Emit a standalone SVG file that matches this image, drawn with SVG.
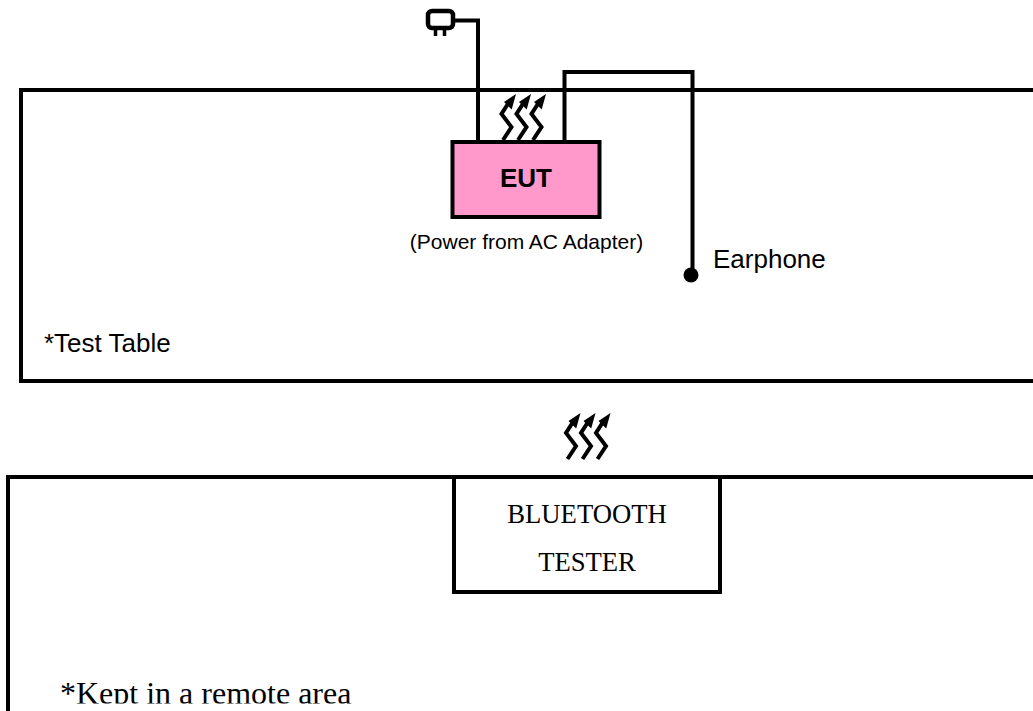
<svg xmlns="http://www.w3.org/2000/svg" width="1033" height="711" viewBox="0 0 1033 711">
<style>
.box{fill:#fff;stroke:#000;stroke-width:4}
.wire{fill:none;stroke:#000;stroke-width:4}
.sq{fill:none;stroke:#000;stroke-width:4}
.sans{font-family:"Liberation Sans",Arial,sans-serif;fill:#000}
.serif{font-family:"Liberation Serif","Times New Roman",serif;fill:#000}
</style>
<defs>
<g id="squiggle">
<path class="sq" d="M0.500 46 L9 33 L-1 20 L6 9"/>
<path d="M13.500 0 L1.500 8 L9.200 15.500 Z" fill="#000"/>
</g>
<clipPath id="remote-clip"><rect x="0" y="660" width="1033" height="43.500"/></clipPath>
</defs>
<g id="test-table">
<rect class="box" x="21" y="90" width="1040" height="291"/>
<text class="sans" x="44" y="352" font-size="26">*Test Table</text>
</g>
<g id="remote-area">
<rect class="box" x="8" y="477" width="1060" height="300"/>
<text class="serif" x="60" y="704" font-size="32" clip-path="url(#remote-clip)">*Kept in a remote area</text>
</g>
<g id="connectors">
<path class="wire" d="M452 20.500 H478 V141"/>
<path class="wire" d="M564.500 141 V72 H692.500 V272"/>
<use href="#squiggle" x="502.500" y="94"/>
<use href="#squiggle" x="517.500" y="94"/>
<use href="#squiggle" x="532.500" y="94"/>
<use href="#squiggle" x="567" y="413"/>
<use href="#squiggle" x="582" y="413"/>
<use href="#squiggle" x="597" y="413"/>
</g>
<g id="plug">
<rect x="428" y="11" width="25" height="17" rx="4" fill="#fff" stroke="#000" stroke-width="4.500"/>
<path d="M435.500 29 V36 M444.500 29 V36" stroke="#000" stroke-width="3.500" fill="none"/>
</g>
<g id="eut">
<rect x="452.500" y="142" width="147" height="75" fill="#ff99cc" stroke="#000" stroke-width="4"/>
<text class="sans" x="526" y="187" font-size="26" font-weight="bold" text-anchor="middle">EUT</text>
<text class="sans" x="526.500" y="249" font-size="21" text-anchor="middle">(Power from AC Adapter)</text>
</g>
<g id="earphone">
<circle cx="691" cy="275" r="7.500" fill="#000"/>
<text class="sans" x="713" y="268" font-size="26">Earphone</text>
</g>
<g id="tester">
<rect class="box" x="454" y="477" width="266" height="115"/>
<text class="serif" x="587" y="522.500" font-size="26.670" text-anchor="middle">BLUETOOTH</text>
<text class="serif" x="587" y="570.500" font-size="26.670" text-anchor="middle">TESTER</text>
</g>
</svg>
